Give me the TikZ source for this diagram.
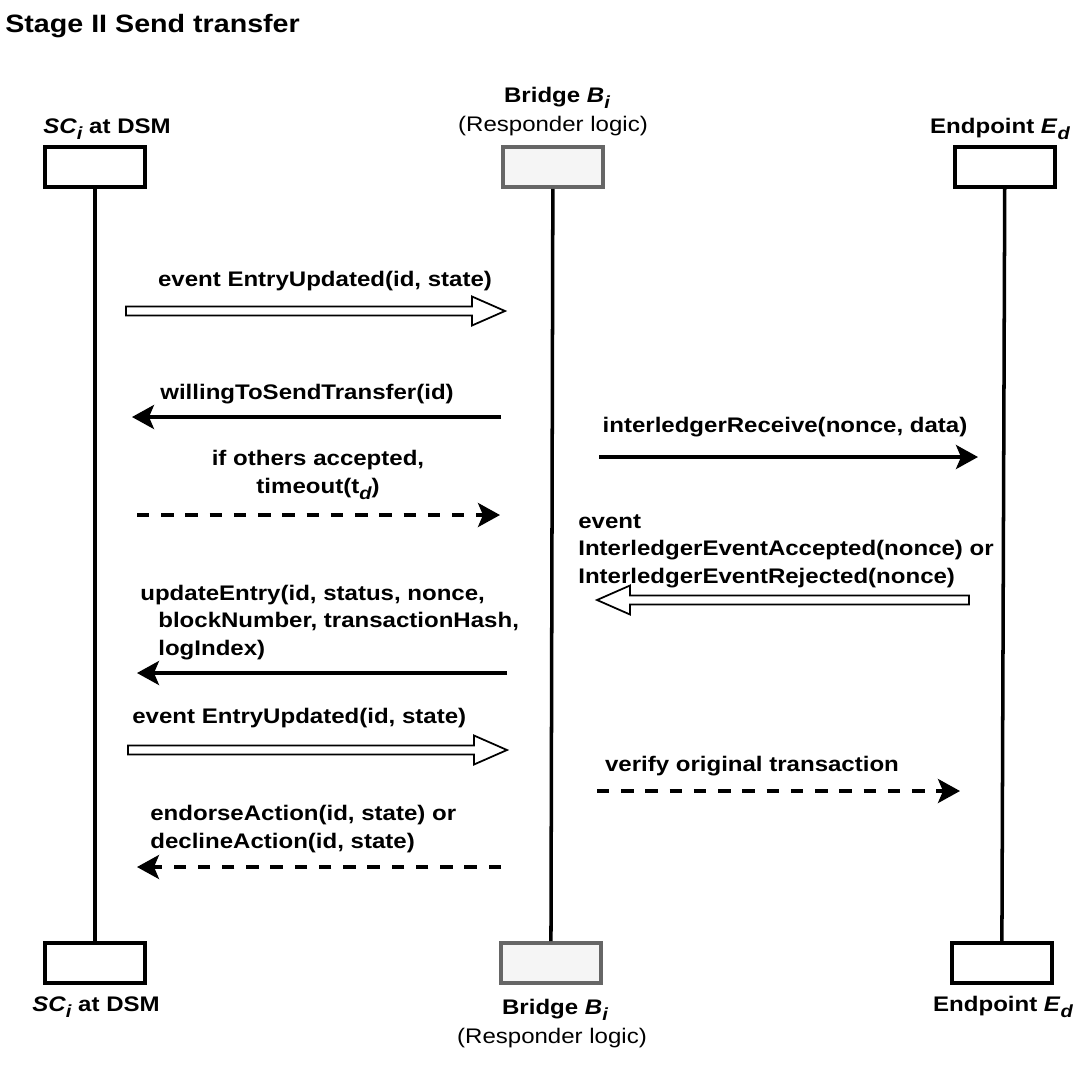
\documentclass[tikz,border=0pt]{standalone}
\usepackage{fontspec}
\setmainfont{Liberation Sans}[FakeStretch=1.14]
\usetikzlibrary{positioning, calc, arrows.meta}
\definecolor{bridgeline}{HTML}{666666}
\definecolor{bridgefill}{HTML}{F5F5F5}
\newcommand{\sbs}[1]{\raisebox{-0.3em}{\fontsize{10pt}{10pt}\selectfont\itshape #1}}
\tikzset{
	actor/.style={draw, rectangle, line width=2pt, minimum width=2cm, minimum height=0.8cm, fill=white, inner sep=0pt},
	bridgebox/.style={actor, draw=bridgeline, fill=bridgefill},
	lifeline/.style={line width=2pt},
	% texts
	ttl/.style={font=\fontsize{14.3pt}{17pt}\selectfont\bfseries, inner sep=0pt},
	lbl/.style={font=\fontsize{12pt}{15.6pt}\selectfont\bfseries, inner sep=0pt},
	txt/.style={font=\fontsize{12pt}{15.6pt}\selectfont, inner sep=0pt},
	% messages
	msg/.style={line width=2pt, -{Stealth[length=0.44cm, width=0.48cm, inset=0.1cm]}},
	reply/.style={msg, dash pattern=on 7pt off 6.8pt},
	% hollow block arrow for events
	evt/.style={draw, line width=1pt, fill=white, line join=miter,
		to path={let \p1=(\tikztostart), \p2=(\tikztotarget),
			\p3=($(\tikztotarget)!0.66cm!(\tikztostart)$) in
			(\x1,\y1+0.09cm) -- (\x3,\y1+0.09cm) -- (\x3,\y1+0.29cm) -- (\x2,\y2)
			-- (\x3,\y1-0.29cm) -- (\x3,\y1-0.09cm) -- (\x1,\y1-0.09cm) -- cycle}},
}
\begin{document}
\begin{tikzpicture}[x=0.02cm, y=-0.02cm]
	\useasboundingbox (0,0) rectangle (1086,1066);
	
	\node (title) [ttl, anchor=base west] at (5,32) {Stage II Send transfer};
	
	% lifeline heads
	\node (sc) [actor] at (95,167) {};
	\node (br) [bridgebox, right of=sc, xshift=8.16cm] {};
	\node (ep) [actor, right of=br, xshift=8.04cm] {};
	\node (sc2) [actor, below of=sc, yshift=-14.92cm] {};
	\node (br2) [bridgebox, below of=br, yshift=-14.92cm, xshift=-0.04cm] {};
	\node (ep2) [actor, below of=ep, yshift=-14.92cm, xshift=-0.06cm] {};
	
	\begin{scope}[lifeline]
		\draw (sc) -- (sc2);
		\draw (br) -- (br2);
		\draw (ep) -- (ep2);
	\end{scope}
	
	\node (sclbl) [lbl, anchor=base] at (107,133) {\textit{SC}\sbs{i} at DSM};
	\node (brlbl) [lbl, anchor=base] at (557,102) {Bridge \textit{B}\sbs{i}};
	\node (brrole) [txt, anchor=base] at (553,131) {(Responder logic)};
	\node (eplbl) [lbl, anchor=base] at (1000,133) {Endpoint \textit{E}\sbs{d}};
	\node (sclbl2) [lbl, anchor=base] at (96,1011) {\textit{SC}\sbs{i} at DSM};
	\node (brlbl2) [lbl, anchor=base] at (555,1014) {Bridge \textit{B}\sbs{i}};
	\node (brrole2) [txt, anchor=base] at (552,1043) {(Responder logic)};
	\node (eplbl2) [lbl, anchor=base] at (1003,1011) {Endpoint \textit{E}\sbs{d}};
	
	% message ends
	\coordinate (m1a) at (126,311); \coordinate (m1b) at (505,311);
	\coordinate (m2a) at (501,417); \coordinate (m2b) at (132,417);
	\coordinate (m3a) at (137,515); \coordinate (m3b) at (500,515);
	\coordinate (m4a) at (599,457); \coordinate (m4b) at (978,457);
	\coordinate (m5a) at (969,600); \coordinate (m5b) at (597,600);
	\coordinate (m6a) at (507,673); \coordinate (m6b) at (137,673);
	\coordinate (m7a) at (128,750); \coordinate (m7b) at (507,750);
	\coordinate (m8a) at (597,791); \coordinate (m8b) at (960,791);
	\coordinate (m9a) at (501,867); \coordinate (m9b) at (137,867);
	
	% base of a multi-line label is its last line
	\node (l1) [lbl, anchor=base] at (325,286) {event EntryUpdated(id, state)};
	\node (l2) [lbl, anchor=base] at (307,399) {willingToSendTransfer(id)};
	\node (l3) [lbl, anchor=base, align=center] at (318,493) {if others accepted,\\timeout(t\sbs{d})};
	\node (l4) [lbl, anchor=base] at (785,432) {interledgerReceive(nonce, data)};
	\node (l5) [lbl, anchor=base west, align=left] at (578,583) {event\\InterledgerEventAccepted(nonce) or\\InterledgerEventRejected(nonce)};
	\node (l6) [lbl, anchor=base west, align=left] at (140,655) {updateEntry(id, status, nonce,\\\hspace*{0.36cm}blockNumber, transactionHash,\\\hspace*{0.36cm}logIndex)};
	\node (l7) [lbl, anchor=base west] at (132,723) {event EntryUpdated(id, state)};
	\node (l8) [lbl, anchor=base] at (752,771) {verify original transaction};
	\node (l9) [lbl, anchor=base west, align=left] at (150,848) {endorseAction(id, state) or\\declineAction(id, state)};
	
	\path[evt] (m1a) to (m1b);
	\path[evt] (m5a) to (m5b);
	\path[evt] (m7a) to (m7b);
	\begin{scope}[msg]
		\draw (m2a) -- (m2b);
		\draw (m4a) -- (m4b);
		\draw (m6a) -- (m6b);
	\end{scope}
	\begin{scope}[reply]
		\draw (m3a) -- (m3b);
		\draw (m8a) -- (m8b);
		\draw (m9a) -- (m9b);
	\end{scope}
	
\end{tikzpicture}
\end{document}
